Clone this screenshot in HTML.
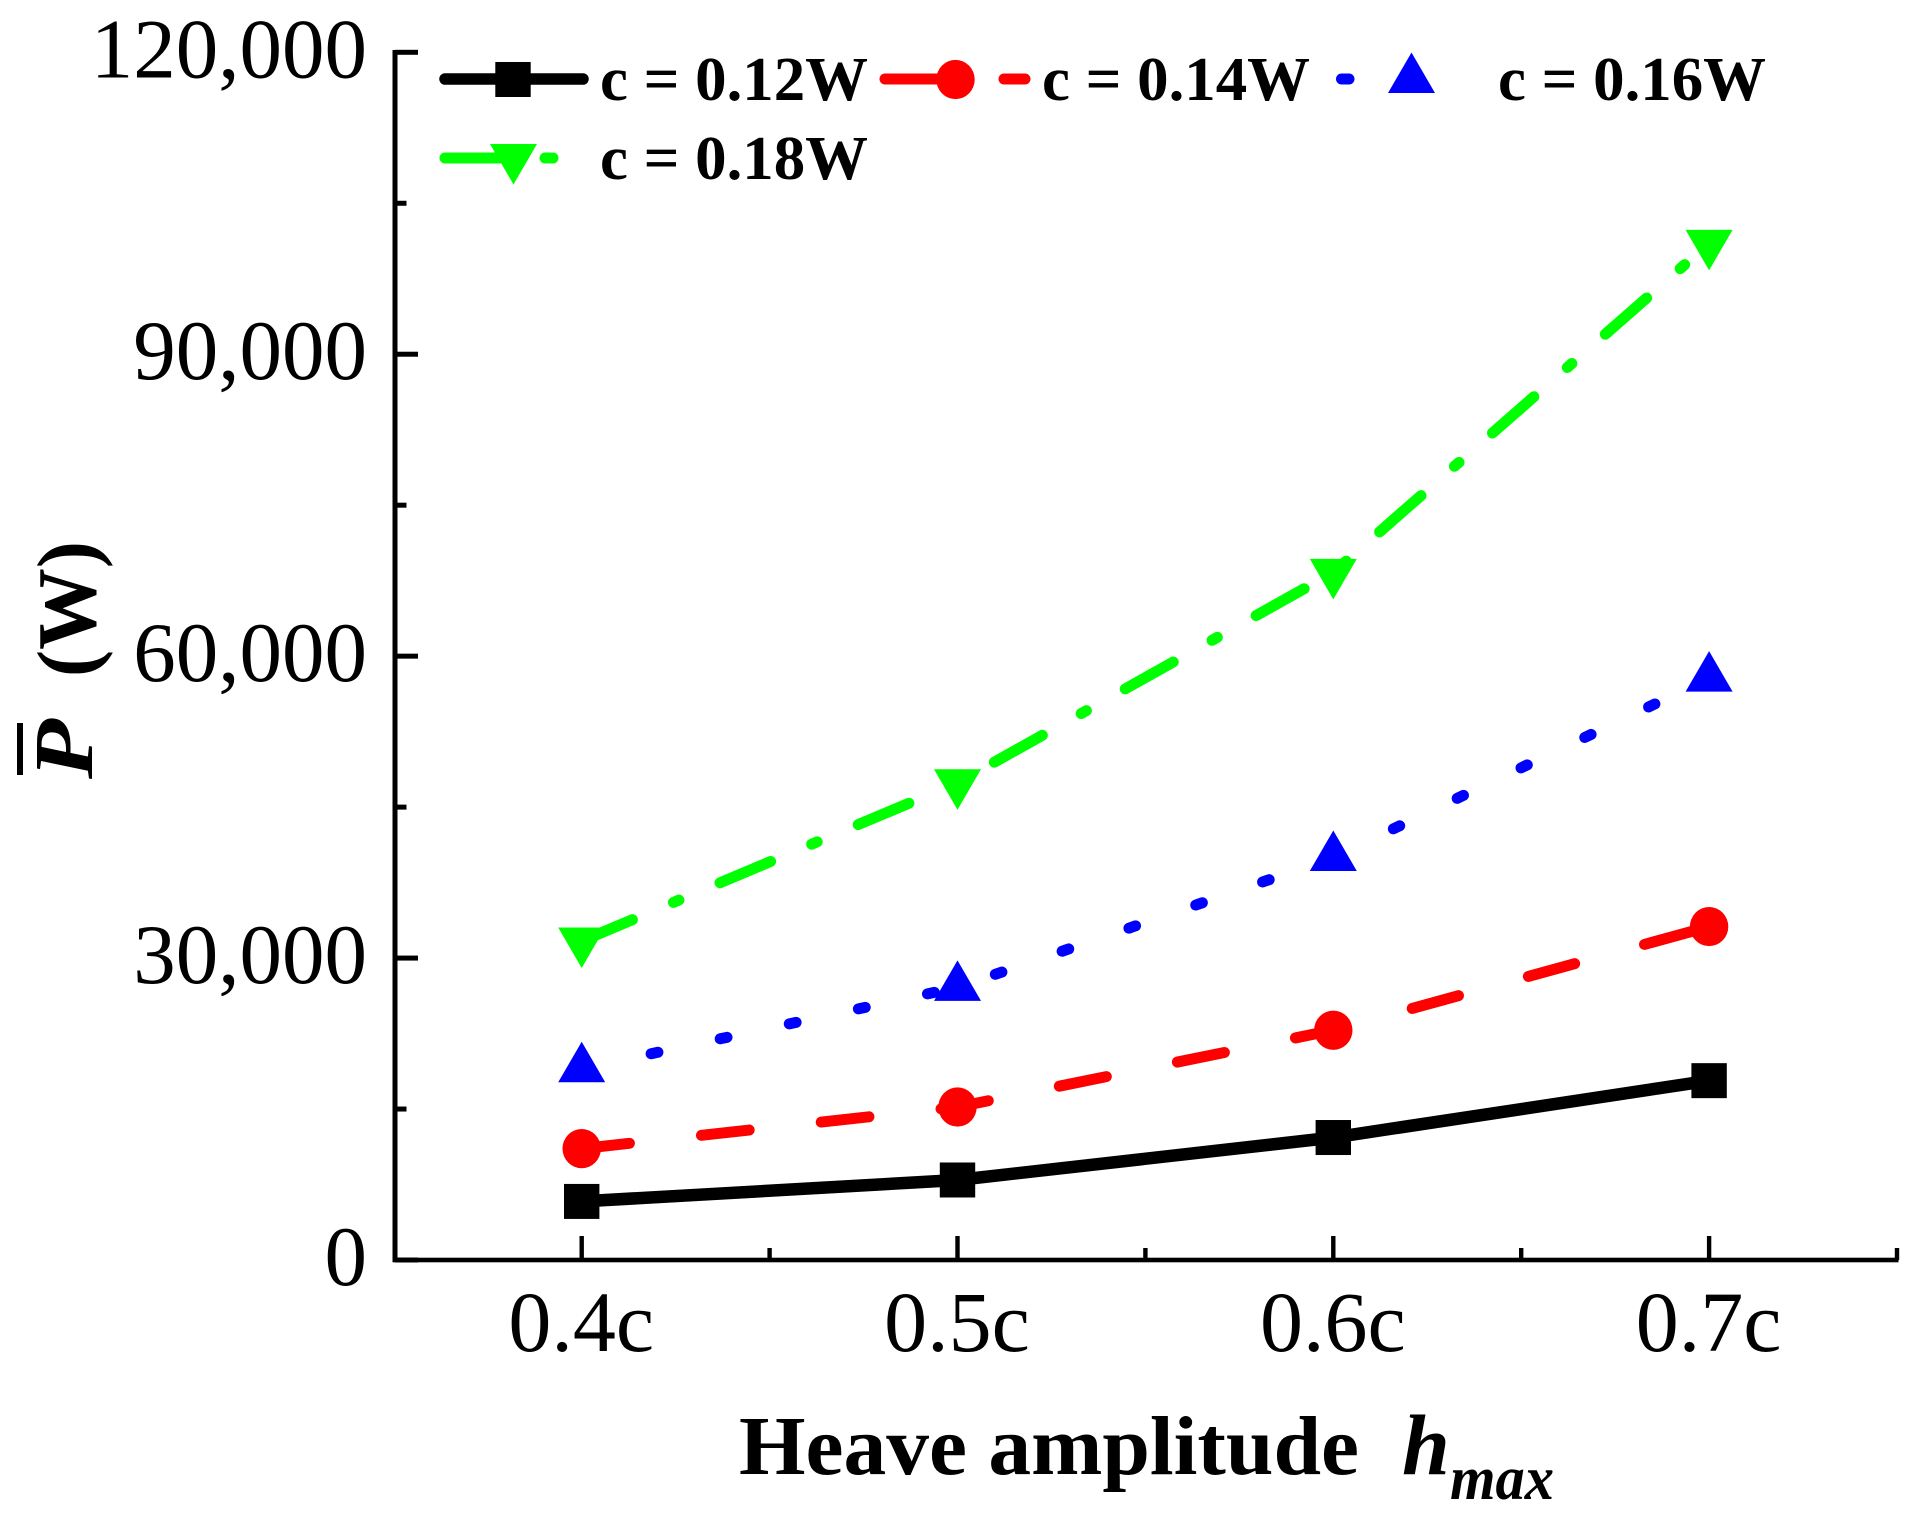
<!DOCTYPE html>
<html lang="en">
<head>
<meta charset="utf-8">
<title>Mean power vs heave amplitude</title>
<style>
html,body{margin:0;padding:0;background:#fff;}
svg{display:block;}
text{font-family:"Liberation Serif","Times New Roman",serif;fill:#000;}
</style>
</head>
<body>
<svg id="chart" xmlns="http://www.w3.org/2000/svg" width="1911" height="1515" viewBox="0 0 1911 1515">
  <rect x="0" y="0" width="1911" height="1515" fill="#fff"/>
  <g id="axes"></g>
  <g id="series"></g>
  <g id="legend"></g>
  <text x="739" y="1474" font-size="84" font-weight="bold" textLength="620" lengthAdjust="spacingAndGlyphs">Heave amplitude</text>
  <text x="1402" y="1474" font-size="86" font-weight="bold" font-style="italic">h</text>
  <text x="1450" y="1499" font-size="62" font-weight="bold" font-style="italic" textLength="104" lengthAdjust="spacingAndGlyphs">max</text>
  <text transform="translate(92,779) rotate(-90)" font-size="84" font-weight="bold" font-style="italic" textLength="60" lengthAdjust="spacingAndGlyphs">P</text>
  <text transform="translate(95,677) rotate(-90)" font-size="84" font-weight="bold" textLength="136" lengthAdjust="spacingAndGlyphs">(W)</text>
  <rect x="17" y="723" width="6" height="52" fill="#000"/>
</svg>
<script>
const categories = [0.4, 0.5, 0.6, 0.7];
const xTickLabels = ["0.4c", "0.5c", "0.6c", "0.7c"];
const xMinorTicks = [0.45, 0.55, 0.65, 0.75];
const yTicks = [0, 30000, 60000, 90000, 120000];
const yTickLabels = ["0", "30,000", "60,000", "90,000", "120,000"];
const yMinorTicks = [15000, 45000, 75000, 105000];
const seriesC12 = [5820, 7950, 12170, 17820];
const seriesC14 = [11070, 15200, 22830, 33130];
const seriesC16 = [19000, 27090, 39990, 57820];
const seriesC18 = [31700, 47420, 68320, 101020];

const NS = "http://www.w3.org/2000/svg";
const axesGroup = document.getElementById("axes");
const seriesGroup = document.getElementById("series");
const legendGroup = document.getElementById("legend");

function xScale(v) { return 581.7 + (v - 0.4) * 3758; }
function yScale(v) { return 1260 - v * (1207.7 / 120000); }

function make(tag, parent, attrs) {
  const el = document.createElementNS(NS, tag);
  for (const k in attrs) el.setAttribute(k, attrs[k]);
  parent.appendChild(el);
  return el;
}
function linePath(values) {
  return values.map((v, i) => (i ? "L" : "M") + xScale(categories[i]).toFixed(1) + " " + yScale(v).toFixed(1)).join(" ");
}
function squareAttrs(cx, cy) { return { x: cx - 17.7, y: cy - 17.5, width: 35.4, height: 35, fill: "#000" }; }
function circleAttrs(cx, cy) { return { cx: cx, cy: cy, rx: 19.2, ry: 19.6, fill: "#f00" }; }
function triUpAttrs(cx, cy) { return { points: (cx - 23.5) + "," + (cy + 13.5) + " " + (cx + 23.5) + "," + (cy + 13.5) + " " + cx + "," + (cy - 27), fill: "#00f" }; }
function triDownAttrs(cx, cy) { return { points: (cx - 23.5) + "," + (cy - 13.5) + " " + (cx + 23.5) + "," + (cy - 13.5) + " " + cx + "," + (cy + 27), fill: "#0f0" }; }

/* axes */
const yAxisLine = make("rect", axesGroup, { x: 392.5, y: 50, width: 5, height: 1212, fill: "#000" });


const xAxisLine = make("rect", axesGroup, { x: 392.5, y: 1257.7, width: 1506, height: 4.6, fill: "#000" });



yTicks.forEach((v, i) => {
  const tick = make("rect", axesGroup, { x: 395, y: yScale(v) - 2.5, width: 23, height: 5, fill: "#000" });
  
  
  const label = make("text", axesGroup, { x: 367, y: yScale(v) + 25, "font-size": 85, "text-anchor": "end" });
  label.textContent = yTickLabels[i];
  
  
});
yMinorTicks.forEach((v) => {
  const tick = make("rect", axesGroup, { x: 395, y: yScale(v) - 2.5, width: 11.5, height: 5, fill: "#000" });
  
  
});
categories.forEach((v, i) => {
  const tick = make("rect", axesGroup, { x: xScale(v) - 2.2, y: 1236, width: 4.4, height: 24, fill: "#000" });
  
  
  const label = make("text", axesGroup, { x: xScale(v) - 0.5, y: 1351, "font-size": 86, "text-anchor": "middle" });
  label.textContent = xTickLabels[i];
  
  
});
xMinorTicks.forEach((v) => {
  const tick = make("rect", axesGroup, { x: xScale(v) - 2.2, y: 1248, width: 4.4, height: 12, fill: "#000" });
  
  
});

/* series: black solid, square */
const lineC12 = make("path", seriesGroup, { d: linePath(seriesC12), fill: "none", stroke: "#000", "stroke-width": 12.5 });


seriesC12.forEach((v, i) => {
  const m = make("rect", seriesGroup, squareAttrs(xScale(categories[i]), yScale(v)));
  
  
});

/* series: red dashed, circle */
const lineC14 = make("path", seriesGroup, { d: linePath(seriesC14), fill: "none", stroke: "#f00", "stroke-width": 11, "stroke-linecap": "round", "stroke-dasharray": "48 72.5" });


seriesC14.forEach((v, i) => {
  const m = make("ellipse", seriesGroup, circleAttrs(xScale(categories[i]), yScale(v)));
  
  
});

/* series: blue dotted, triangle up (pattern opens with a gap so nothing pokes out of the first marker) */
const lineC16 = make("path", seriesGroup, { d: linePath(seriesC16), fill: "none", stroke: "#00f", "stroke-width": 11, "stroke-linecap": "round", "stroke-dasharray": "0 71 " + "7 63.7 ".repeat(20) });


seriesC16.forEach((v, i) => {
  const m = make("polygon", seriesGroup, triUpAttrs(xScale(categories[i]), yScale(v)));
  
  
});

/* series: green dash-dot, triangle down */
const lineC18 = make("path", seriesGroup, { d: linePath(seriesC18), fill: "none", stroke: "#0f0", "stroke-width": 11, "stroke-linecap": "round", "stroke-dasharray": "55 44.5 6 44.5" });


seriesC18.forEach((v, i) => {
  const m = make("polygon", seriesGroup, triDownAttrs(xScale(categories[i]), yScale(v)));
  
  
});

/* legend */
function legendStroke(parent, x1, x2, y, color, width, name) {
  const s = make("line", parent, { x1: x1, x2: x2, y1: y, y2: y, stroke: color, "stroke-width": width, "stroke-linecap": "round" });
  
  
}
function legendLabel(parent, x, y, text) {
  const t = make("text", parent, { x: x, y: y, "font-size": 62.5, "font-weight": "bold", textLength: 268, lengthAdjust: "spacingAndGlyphs" });
  t.textContent = text;
  
  
}
legendStroke(legendGroup, 445, 583, 79, "#000", 11.5, "legend-line-c-0-12w");
const legSquare = make("rect", legendGroup, squareAttrs(513, 79.5));


legendLabel(legendGroup, 600, 100, "c = 0.12W");

legendStroke(legendGroup, 885, 940, 79, "#f00", 11, "legend-line-c-0-14w");
legendStroke(legendGroup, 1004, 1025, 79, "#f00", 11, "legend-dash-c-0-14w");
const legCircle = make("ellipse", legendGroup, circleAttrs(955.5, 79.5));


legendLabel(legendGroup, 1042, 100, "c = 0.14W");

legendStroke(legendGroup, 1341.5, 1349, 79, "#00f", 11, "legend-dot-c-0-16w");
const legTriUp = make("polygon", legendGroup, triUpAttrs(1411.5, 79.5));


legendLabel(legendGroup, 1498, 100, "c = 0.16W");

legendStroke(legendGroup, 445, 520, 158, "#0f0", 11, "legend-line-c-0-18w");
legendStroke(legendGroup, 545, 553, 158, "#0f0", 11, "legend-dot-c-0-18w");
const legTriDown = make("polygon", legendGroup, triDownAttrs(513.5, 157.5));


legendLabel(legendGroup, 600, 179, "c = 0.18W");
</script>
</body>
</html>
